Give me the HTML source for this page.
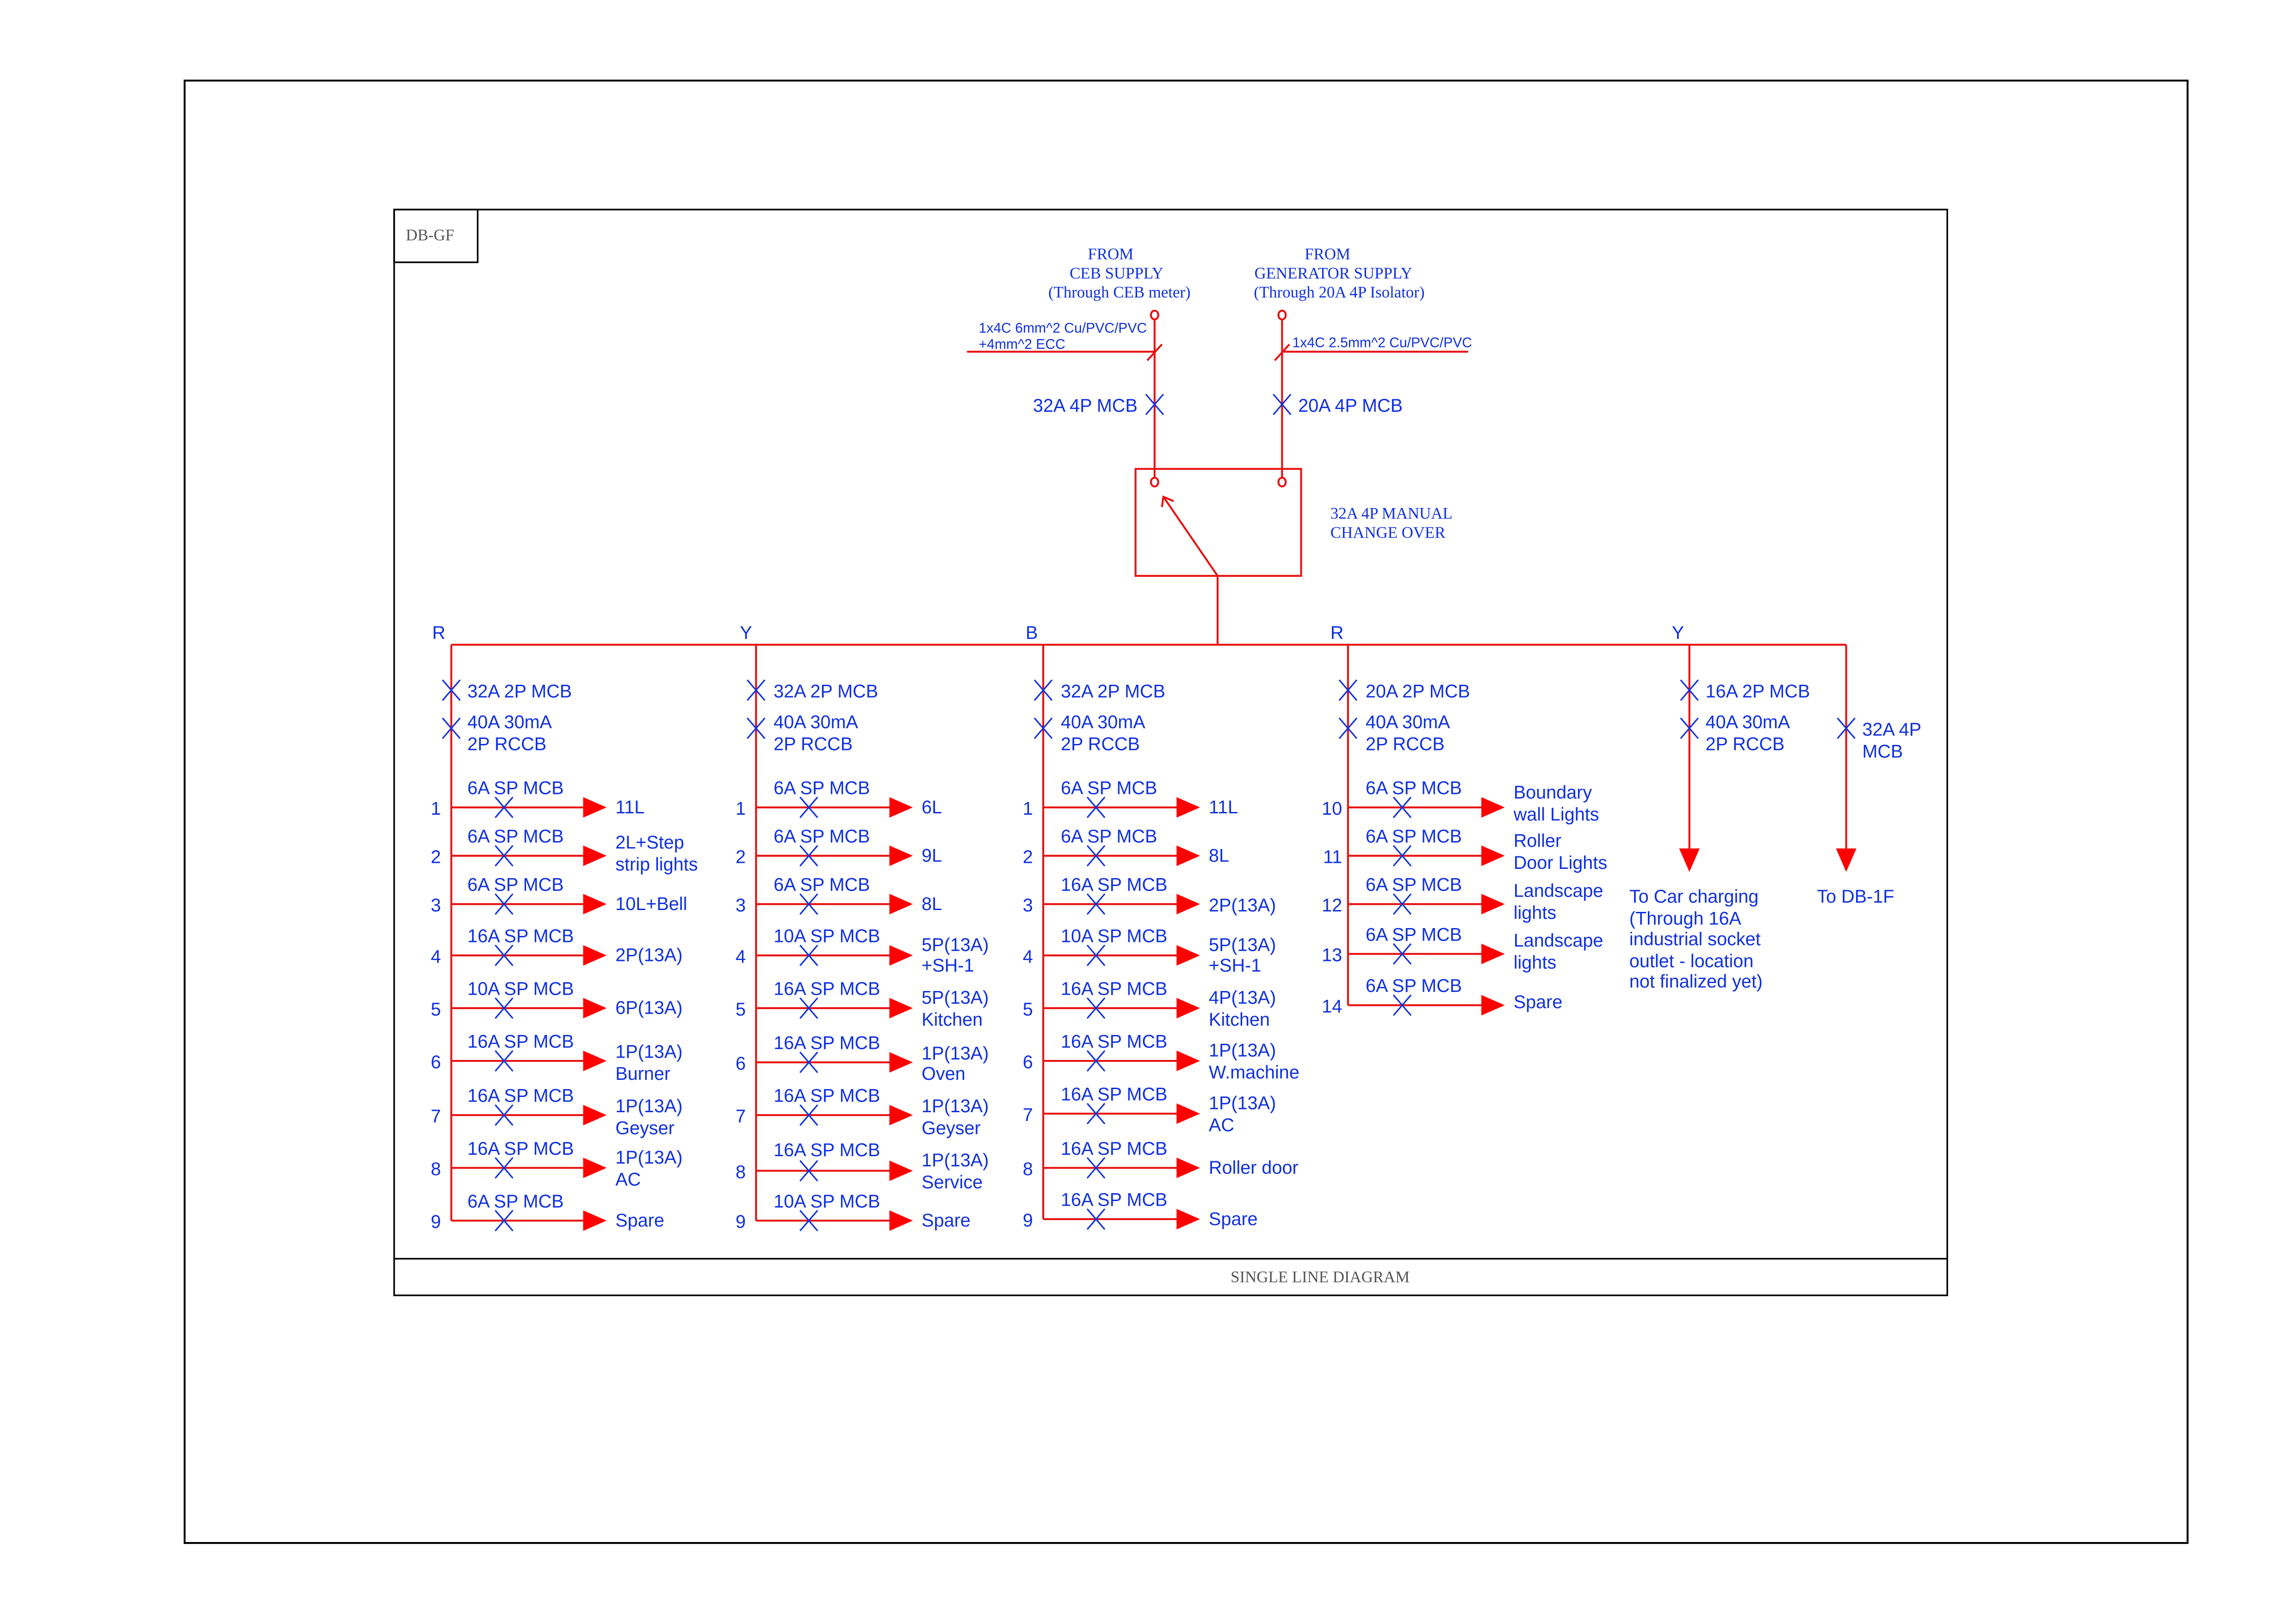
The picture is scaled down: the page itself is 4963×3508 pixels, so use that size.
<!DOCTYPE html>
<html><head><meta charset="utf-8"><style>
html,body{margin:0;padding:0;background:#fff;}
svg{display:block;}
.t{font-family:"Liberation Sans",Arial,sans-serif;font-size:12.5px;fill:#1030e0;}
.s{font-family:"Liberation Serif",serif;font-size:11px;fill:#1030e0;}
.r{stroke:#e81010;stroke-width:1.3;fill:none;}
.x{stroke:#1030e0;stroke-width:1;}
</style></head><body>
<svg width="4963" height="3508" viewBox="0 0 1567 1107.6" preserveAspectRatio="none" xmlns="http://www.w3.org/2000/svg">
<defs>
<g id="X"><line class="x" x1="-6" y1="-7" x2="6" y2="7"/><line class="x" x1="-6" y1="7" x2="6" y2="-7"/></g>
<polygon id="A" points="0,-7 16,0 0,7" fill="#f00"/>
<polygon id="D" points="-7,0 7,0 0,16" fill="#f00"/>
</defs>
<rect x="126" y="55" width="1367" height="998" fill="none" stroke="#000" stroke-width="1.3"/>
<rect x="269" y="143" width="1060" height="741" fill="none" stroke="#000" stroke-width="1.1"/>
<line x1="269" y1="859" x2="1329" y2="859" stroke="#000" stroke-width="1.1"/>
<rect x="269" y="143" width="57" height="36" fill="none" stroke="#000" stroke-width="1.1"/>
<text x="277" y="164" font-family="Liberation Serif,serif" font-size="11" fill="#555">DB-GF</text>
<text x="901" y="875" text-anchor="middle" font-family="Liberation Serif,serif" font-size="11" fill="#555">SINGLE LINE DIAGRAM</text>

<text class="s" x="758" y="177" text-anchor="middle">FROM</text>
<text class="s" x="762" y="190" text-anchor="middle">CEB SUPPLY</text>
<text class="s" x="764" y="203" text-anchor="middle">(Through CEB meter)</text>
<text class="s" x="906" y="177" text-anchor="middle">FROM</text>
<text class="s" x="910" y="190" text-anchor="middle">GENERATOR SUPPLY</text>
<text class="s" x="914" y="203" text-anchor="middle">(Through 20A 4P Isolator)</text>
<line class="r" x1="788" y1="218" x2="788" y2="326"/>
<line class="r" x1="875" y1="218" x2="875" y2="326"/>
<ellipse class="r" cx="788" cy="215" rx="2.5" ry="3"/>
<ellipse class="r" cx="875" cy="215" rx="2.5" ry="3"/>
<ellipse class="r" cx="788" cy="329" rx="2.5" ry="3"/>
<ellipse class="r" cx="875" cy="329" rx="2.5" ry="3"/>
<line class="r" x1="660" y1="240" x2="788" y2="240"/>
<line class="r" x1="783" y1="246" x2="793" y2="235"/>
<line class="r" x1="875" y1="240" x2="1002" y2="240"/>
<line class="r" x1="870" y1="246" x2="880" y2="235"/>
<text class="t" x="668" y="227" style="font-size:9.5px">1x4C 6mm^2 Cu/PVC/PVC</text>
<text class="t" x="668" y="238" style="font-size:9.5px">+4mm^2 ECC</text>
<text class="t" x="882" y="237" style="font-size:9.5px">1x4C 2.5mm^2 Cu/PVC/PVC</text>
<use href="#X" x="788" y="276"/><use href="#X" x="875" y="276"/>
<text class="t" x="705" y="281">32A 4P MCB</text>
<text class="t" x="886" y="281">20A 4P MCB</text>
<rect class="r" x="775" y="320" width="113" height="73"/>
<line class="r" x1="831" y1="393" x2="794" y2="339"/>
<polyline class="r" points="793,346 794,339 801,342"/>
<line class="r" x1="831" y1="393" x2="831" y2="440"/>
<text class="s" x="908" y="354">32A 4P MANUAL</text>
<text class="s" x="908" y="367">CHANGE OVER</text>

<line class="r" x1="308" y1="440" x2="1260" y2="440"/>
<text class="t" x="295" y="436">R</text><text class="t" x="505" y="436">Y</text><text class="t" x="700" y="436">B</text><text class="t" x="908" y="436">R</text><text class="t" x="1141" y="436">Y</text>

<g>
<line class="r" x1="308" y1="440" x2="308" y2="833"/>
<line class="r" x1="516" y1="440" x2="516" y2="833"/>
<line class="r" x1="712" y1="440" x2="712" y2="832"/>
<line class="r" x1="920" y1="440" x2="920" y2="686"/>
<line class="r" x1="1153" y1="440" x2="1153" y2="580"/>
<line class="r" x1="1260" y1="440" x2="1260" y2="580"/>
<use href="#D" x="1153" y="579"/><use href="#D" x="1260" y="579"/>
<use href="#X" x="308" y="471"/><use href="#X" x="308" y="497"/>
<use href="#X" x="516" y="471"/><use href="#X" x="516" y="497"/>
<use href="#X" x="712" y="471"/><use href="#X" x="712" y="497"/>
<use href="#X" x="920" y="471"/><use href="#X" x="920" y="497"/>
<use href="#X" x="1153" y="471"/><use href="#X" x="1153" y="497"/>
<use href="#X" x="1260" y="497"/>
<text class="t" x="319" y="476">32A 2P MCB</text><text class="t" x="319" y="497">40A 30mA</text><text class="t" x="319" y="512">2P RCCB</text>
<text class="t" x="528" y="476">32A 2P MCB</text><text class="t" x="528" y="497">40A 30mA</text><text class="t" x="528" y="512">2P RCCB</text>
<text class="t" x="724" y="476">32A 2P MCB</text><text class="t" x="724" y="497">40A 30mA</text><text class="t" x="724" y="512">2P RCCB</text>
<text class="t" x="932" y="476">20A 2P MCB</text><text class="t" x="932" y="497">40A 30mA</text><text class="t" x="932" y="512">2P RCCB</text>
<text class="t" x="1164" y="476">16A 2P MCB</text><text class="t" x="1164" y="497">40A 30mA</text><text class="t" x="1164" y="512">2P RCCB</text>
<text class="t" x="1271" y="502">32A 4P</text><text class="t" x="1271" y="517">MCB</text>
<text class="t" x="1112" y="616">To Car charging</text>
<text class="t" x="1112" y="631">(Through 16A</text>
<text class="t" x="1112" y="645">industrial socket</text>
<text class="t" x="1112" y="660">outlet - location</text>
<text class="t" x="1112" y="674">not finalized yet)</text>
<text class="t" x="1240" y="616">To DB-1F</text>
</g>

<g transform="translate(308,0)">
<g transform="translate(0,551)"><line class="r" x1="0" y1="0" x2="92" y2="0"/><use href="#X" x="36"/><use href="#A" x="90"/><text class="t" x="-14" y="5">1</text><text class="t" x="11" y="-9">6A SP MCB</text><text class="t" x="112" y="4">11L</text></g>
<g transform="translate(0,584)"><line class="r" x1="0" y1="0" x2="92" y2="0"/><use href="#X" x="36"/><use href="#A" x="90"/><text class="t" x="-14" y="5">2</text><text class="t" x="11" y="-9">6A SP MCB</text><text class="t" x="112" y="-5">2L+Step</text><text class="t" x="112" y="10">strip lights</text></g>
<g transform="translate(0,617)"><line class="r" x1="0" y1="0" x2="92" y2="0"/><use href="#X" x="36"/><use href="#A" x="90"/><text class="t" x="-14" y="5">3</text><text class="t" x="11" y="-9">6A SP MCB</text><text class="t" x="112" y="4">10L+Bell</text></g>
<g transform="translate(0,652)"><line class="r" x1="0" y1="0" x2="92" y2="0"/><use href="#X" x="36"/><use href="#A" x="90"/><text class="t" x="-14" y="5">4</text><text class="t" x="11" y="-9">16A SP MCB</text><text class="t" x="112" y="4">2P(13A)</text></g>
<g transform="translate(0,688)"><line class="r" x1="0" y1="0" x2="92" y2="0"/><use href="#X" x="36"/><use href="#A" x="90"/><text class="t" x="-14" y="5">5</text><text class="t" x="11" y="-9">10A SP MCB</text><text class="t" x="112" y="4">6P(13A)</text></g>
<g transform="translate(0,724)"><line class="r" x1="0" y1="0" x2="92" y2="0"/><use href="#X" x="36"/><use href="#A" x="90"/><text class="t" x="-14" y="5">6</text><text class="t" x="11" y="-9">16A SP MCB</text><text class="t" x="112" y="-2">1P(13A)</text><text class="t" x="112" y="13">Burner</text></g>
<g transform="translate(0,761)"><line class="r" x1="0" y1="0" x2="92" y2="0"/><use href="#X" x="36"/><use href="#A" x="90"/><text class="t" x="-14" y="5">7</text><text class="t" x="11" y="-9">16A SP MCB</text><text class="t" x="112" y="-2">1P(13A)</text><text class="t" x="112" y="13">Geyser</text></g>
<g transform="translate(0,797)"><line class="r" x1="0" y1="0" x2="92" y2="0"/><use href="#X" x="36"/><use href="#A" x="90"/><text class="t" x="-14" y="5">8</text><text class="t" x="11" y="-9">16A SP MCB</text><text class="t" x="112" y="-3">1P(13A)</text><text class="t" x="112" y="12">AC</text></g>
<g transform="translate(0,833)"><line class="r" x1="0" y1="0" x2="92" y2="0"/><use href="#X" x="36"/><use href="#A" x="90"/><text class="t" x="-14" y="5">9</text><text class="t" x="11" y="-9">6A SP MCB</text><text class="t" x="112" y="4">Spare</text></g>
</g>

<g transform="translate(516,0)">
<g transform="translate(0,551)"><line class="r" x1="0" y1="0" x2="92" y2="0"/><use href="#X" x="36"/><use href="#A" x="91"/><text class="t" x="-14" y="5">1</text><text class="t" x="12" y="-9">6A SP MCB</text><text class="t" x="113" y="4">6L</text></g>
<g transform="translate(0,584)"><line class="r" x1="0" y1="0" x2="92" y2="0"/><use href="#X" x="36"/><use href="#A" x="91"/><text class="t" x="-14" y="5">2</text><text class="t" x="12" y="-9">6A SP MCB</text><text class="t" x="113" y="4">9L</text></g>
<g transform="translate(0,617)"><line class="r" x1="0" y1="0" x2="92" y2="0"/><use href="#X" x="36"/><use href="#A" x="91"/><text class="t" x="-14" y="5">3</text><text class="t" x="12" y="-9">6A SP MCB</text><text class="t" x="113" y="4">8L</text></g>
<g transform="translate(0,652)"><line class="r" x1="0" y1="0" x2="92" y2="0"/><use href="#X" x="36"/><use href="#A" x="91"/><text class="t" x="-14" y="5">4</text><text class="t" x="12" y="-9">10A SP MCB</text><text class="t" x="113" y="-3">5P(13A)</text><text class="t" x="113" y="11">+SH-1</text></g>
<g transform="translate(0,688)"><line class="r" x1="0" y1="0" x2="92" y2="0"/><use href="#X" x="36"/><use href="#A" x="91"/><text class="t" x="-14" y="5">5</text><text class="t" x="12" y="-9">16A SP MCB</text><text class="t" x="113" y="-3">5P(13A)</text><text class="t" x="113" y="12">Kitchen</text></g>
<g transform="translate(0,725)"><line class="r" x1="0" y1="0" x2="92" y2="0"/><use href="#X" x="36"/><use href="#A" x="91"/><text class="t" x="-14" y="5">6</text><text class="t" x="12" y="-9">16A SP MCB</text><text class="t" x="113" y="-2">1P(13A)</text><text class="t" x="113" y="12">Oven</text></g>
<g transform="translate(0,761)"><line class="r" x1="0" y1="0" x2="92" y2="0"/><use href="#X" x="36"/><use href="#A" x="91"/><text class="t" x="-14" y="5">7</text><text class="t" x="12" y="-9">16A SP MCB</text><text class="t" x="113" y="-2">1P(13A)</text><text class="t" x="113" y="13">Geyser</text></g>
<g transform="translate(0,799)"><line class="r" x1="0" y1="0" x2="92" y2="0"/><use href="#X" x="36"/><use href="#A" x="91"/><text class="t" x="-14" y="5">8</text><text class="t" x="12" y="-10">16A SP MCB</text><text class="t" x="113" y="-3">1P(13A)</text><text class="t" x="113" y="12">Service</text></g>
<g transform="translate(0,833)"><line class="r" x1="0" y1="0" x2="92" y2="0"/><use href="#X" x="36"/><use href="#A" x="91"/><text class="t" x="-14" y="5">9</text><text class="t" x="12" y="-9">10A SP MCB</text><text class="t" x="113" y="4">Spare</text></g>
</g>

<g transform="translate(712,0)">
<g transform="translate(0,551)"><line class="r" x1="0" y1="0" x2="92" y2="0"/><use href="#X" x="36"/><use href="#A" x="91"/><text class="t" x="-14" y="5">1</text><text class="t" x="12" y="-9">6A SP MCB</text><text class="t" x="113" y="4">11L</text></g>
<g transform="translate(0,584)"><line class="r" x1="0" y1="0" x2="92" y2="0"/><use href="#X" x="36"/><use href="#A" x="91"/><text class="t" x="-14" y="5">2</text><text class="t" x="12" y="-9">6A SP MCB</text><text class="t" x="113" y="4">8L</text></g>
<g transform="translate(0,617)"><line class="r" x1="0" y1="0" x2="92" y2="0"/><use href="#X" x="36"/><use href="#A" x="91"/><text class="t" x="-14" y="5">3</text><text class="t" x="12" y="-9">16A SP MCB</text><text class="t" x="113" y="5">2P(13A)</text></g>
<g transform="translate(0,652)"><line class="r" x1="0" y1="0" x2="92" y2="0"/><use href="#X" x="36"/><use href="#A" x="91"/><text class="t" x="-14" y="5">4</text><text class="t" x="12" y="-9">10A SP MCB</text><text class="t" x="113" y="-3">5P(13A)</text><text class="t" x="113" y="11">+SH-1</text></g>
<g transform="translate(0,688)"><line class="r" x1="0" y1="0" x2="92" y2="0"/><use href="#X" x="36"/><use href="#A" x="91"/><text class="t" x="-14" y="5">5</text><text class="t" x="12" y="-9">16A SP MCB</text><text class="t" x="113" y="-3">4P(13A)</text><text class="t" x="113" y="12">Kitchen</text></g>
<g transform="translate(0,724)"><line class="r" x1="0" y1="0" x2="92" y2="0"/><use href="#X" x="36"/><use href="#A" x="91"/><text class="t" x="-14" y="5">6</text><text class="t" x="12" y="-9">16A SP MCB</text><text class="t" x="113" y="-3">1P(13A)</text><text class="t" x="113" y="12">W.machine</text></g>
<g transform="translate(0,760)"><line class="r" x1="0" y1="0" x2="92" y2="0"/><use href="#X" x="36"/><use href="#A" x="91"/><text class="t" x="-14" y="5">7</text><text class="t" x="12" y="-9">16A SP MCB</text><text class="t" x="113" y="-3">1P(13A)</text><text class="t" x="113" y="12">AC</text></g>
<g transform="translate(0,797)"><line class="r" x1="0" y1="0" x2="92" y2="0"/><use href="#X" x="36"/><use href="#A" x="91"/><text class="t" x="-14" y="5">8</text><text class="t" x="12" y="-9">16A SP MCB</text><text class="t" x="113" y="4">Roller door</text></g>
<g transform="translate(0,832)"><line class="r" x1="0" y1="0" x2="92" y2="0"/><use href="#X" x="36"/><use href="#A" x="91"/><text class="t" x="-14" y="5">9</text><text class="t" x="12" y="-9">16A SP MCB</text><text class="t" x="113" y="4">Spare</text></g>
</g>

<g transform="translate(920,0)">
<g transform="translate(0,551)"><line class="r" x1="0" y1="0" x2="92" y2="0"/><use href="#X" x="37"/><use href="#A" x="91"/><text class="t" x="-4" y="5" text-anchor="end">10</text><text class="t" x="12" y="-9">6A SP MCB</text><text class="t" x="113" y="-6">Boundary</text><text class="t" x="113" y="9">wall Lights</text></g>
<g transform="translate(0,584)"><line class="r" x1="0" y1="0" x2="92" y2="0"/><use href="#X" x="37"/><use href="#A" x="91"/><text class="t" x="-4" y="5" text-anchor="end">11</text><text class="t" x="12" y="-9">6A SP MCB</text><text class="t" x="113" y="-6">Roller</text><text class="t" x="113" y="9">Door Lights</text></g>
<g transform="translate(0,617)"><line class="r" x1="0" y1="0" x2="92" y2="0"/><use href="#X" x="37"/><use href="#A" x="91"/><text class="t" x="-4" y="5" text-anchor="end">12</text><text class="t" x="12" y="-9">6A SP MCB</text><text class="t" x="113" y="-5">Landscape</text><text class="t" x="113" y="10">lights</text></g>
<g transform="translate(0,651)"><line class="r" x1="0" y1="0" x2="92" y2="0"/><use href="#X" x="37"/><use href="#A" x="91"/><text class="t" x="-4" y="5" text-anchor="end">13</text><text class="t" x="12" y="-9">6A SP MCB</text><text class="t" x="113" y="-5">Landscape</text><text class="t" x="113" y="10">lights</text></g>
<g transform="translate(0,686)"><line class="r" x1="0" y1="0" x2="92" y2="0"/><use href="#X" x="37"/><use href="#A" x="91"/><text class="t" x="-4" y="5" text-anchor="end">14</text><text class="t" x="12" y="-9">6A SP MCB</text><text class="t" x="113" y="2">Spare</text></g>
</g>
</svg>
</body></html>
